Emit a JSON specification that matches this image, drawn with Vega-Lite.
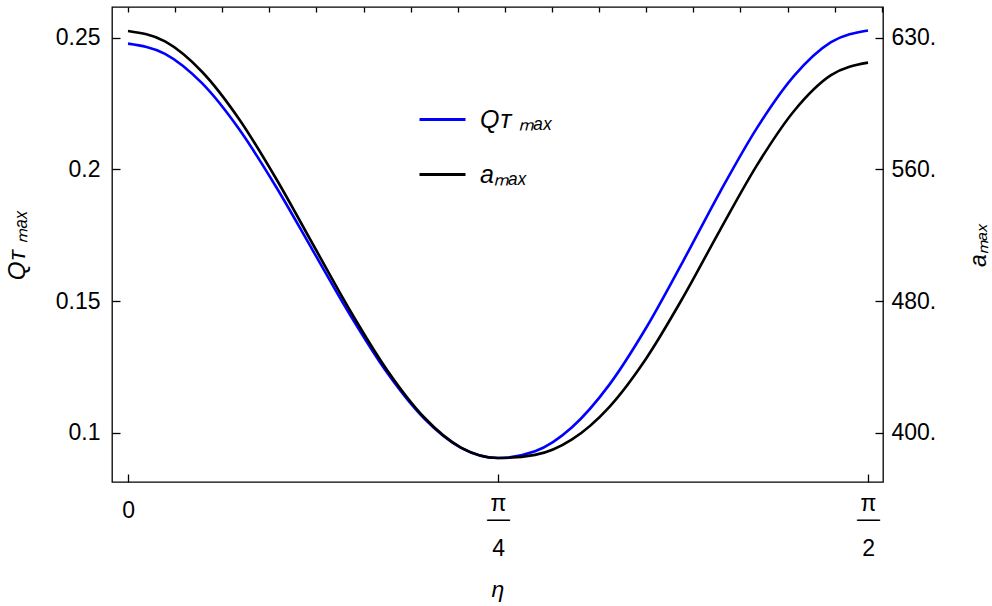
{
  "$schema": "https://vega.github.io/schema/vega-lite/v6.json",
  "width": 771,
  "height": 475,
  "autosize": {"type": "none"},
  "padding": {"left": 112, "top": 7, "right": 109, "bottom": 124},
  "background": "white",
  "config": {
    "font": "Liberation Sans",
    "view": {"stroke": "black", "strokeWidth": 1.3},
    "axis": {
      "domain": false,
      "grid": false,
      "ticks": true,
      "tickColor": "black",
      "tickWidth": 1.3,
      "labelColor": "black",
      "titleColor": "black",
      "labelFont": "Liberation Sans",
      "titleFont": "Liberation Sans",
      "labelFontSize": 23,
      "titleFontSize": 23,
      "titleFontWeight": "normal",
      "titleFontStyle": "italic"
    }
  },
  "data": {
    "values": [
      {"eta": 0.0, "series": "Q", "value": 0.2477},
      {"eta": 0.07854, "series": "Q", "value": 0.24385},
      {"eta": 0.15708, "series": "Q", "value": 0.23269},
      {"eta": 0.23562, "series": "Q", "value": 0.2153},
      {"eta": 0.31416, "series": "Q", "value": 0.19339},
      {"eta": 0.3927, "series": "Q", "value": 0.1691},
      {"eta": 0.47124, "series": "Q", "value": 0.14481},
      {"eta": 0.54978, "series": "Q", "value": 0.1229},
      {"eta": 0.62832, "series": "Q", "value": 0.10551},
      {"eta": 0.70686, "series": "Q", "value": 0.09435},
      {"eta": 0.7854, "series": "Q", "value": 0.0905},
      {"eta": 0.86394, "series": "Q", "value": 0.09304},
      {"eta": 0.94248, "series": "Q", "value": 0.10218},
      {"eta": 1.02102, "series": "Q", "value": 0.11816},
      {"eta": 1.09956, "series": "Q", "value": 0.13983},
      {"eta": 1.1781, "series": "Q", "value": 0.16513},
      {"eta": 1.25664, "series": "Q", "value": 0.1914},
      {"eta": 1.33518, "series": "Q", "value": 0.21575},
      {"eta": 1.41372, "series": "Q", "value": 0.23546},
      {"eta": 1.49226, "series": "Q", "value": 0.24826},
      {"eta": 1.5708, "series": "Q", "value": 0.2527},
      {"eta": 0.0, "series": "a", "value": 0.2525},
      {"eta": 0.07854, "series": "a", "value": 0.24854},
      {"eta": 0.15708, "series": "a", "value": 0.23703},
      {"eta": 0.23562, "series": "a", "value": 0.21911},
      {"eta": 0.31416, "series": "a", "value": 0.19653},
      {"eta": 0.3927, "series": "a", "value": 0.1715},
      {"eta": 0.47124, "series": "a", "value": 0.14647},
      {"eta": 0.54978, "series": "a", "value": 0.12389},
      {"eta": 0.62832, "series": "a", "value": 0.10597},
      {"eta": 0.70686, "series": "a", "value": 0.09446},
      {"eta": 0.7854, "series": "a", "value": 0.0905},
      {"eta": 0.86394, "series": "a", "value": 0.0917},
      {"eta": 0.94248, "series": "a", "value": 0.09758},
      {"eta": 1.02102, "series": "a", "value": 0.10975},
      {"eta": 1.09956, "series": "a", "value": 0.12818},
      {"eta": 1.1781, "series": "a", "value": 0.15142},
      {"eta": 1.25664, "series": "a", "value": 0.17696},
      {"eta": 1.33518, "series": "a", "value": 0.20162},
      {"eta": 1.41372, "series": "a", "value": 0.22216},
      {"eta": 1.49226, "series": "a", "value": 0.23575},
      {"eta": 1.5708, "series": "a", "value": 0.2405}
    ]
  },
  "layer": [
    {
      "transform": [{"filter": "datum.series === 'Q'"}],
      "mark": {"type": "line", "strokeWidth": 2.6, "interpolate": "monotone"},
      "encoding": {
        "x": {
          "field": "eta",
          "type": "quantitative",
          "scale": {"domain": [-0.034, 1.6026], "nice": false, "zero": false},
          "axis": {
            "orient": "bottom",
            "values": [0, 0.785398, 1.570796],
            "offset": -8,
            "tickSize": 8,
            "labelPadding": {"condition": {"test": "datum.value < 0.1", "value": 17.5}, "value": 10.5},
            "labelExpr": "datum.value < 0.1 ? '0' : datum.value < 1 ? ['π', '—', '\u200b', '4'] : ['π', '—', '\u200b', '2']",
            "labelLineHeight": 15,
            "labelFlush": false,
            "labelOverlap": false,
            "title": "η",
            "titlePadding": 18
          }
        },
        "y": {
          "field": "value",
          "type": "quantitative",
          "scale": {"domain": [0.0814, 0.2616], "nice": false, "zero": false},
          "axis": {
            "orient": "left",
            "values": [0.1, 0.15, 0.2, 0.25],
            "offset": -8,
            "tickSize": 8,
            "labelPadding": 12,
            "labelExpr": "datum.value < 0.11 ? '0.1' : datum.value < 0.16 ? '0.15' : datum.value < 0.21 ? '0.2' : '0.25'",
            "title": "Qᴛ ₘₐₓ",
            "titleFontSize": 24,
            "titlePadding": 26
          }
        },
        "color": {
          "field": "series",
          "type": "nominal",
          "scale": {"domain": ["Q", "a"], "range": ["#0000ff", "#000000"]},
          "legend": {
            "orient": "none",
            "legendX": 306,
            "legendY": 88,
            "title": null,
            "symbolType": "stroke",
            "symbolSize": 2116,
            "symbolStrokeWidth": 3,
            "labelFontSize": 25,
            "labelFontStyle": "italic",
            "labelColor": "black",
            "labelFont": "Liberation Sans",
            "labelOffset": 13,
            "rowPadding": 17,
            "labelExpr": "datum.value === 'Q' ? 'Qᴛ ₘₐₓ' : 'aₘₐₓ'"
          }
        }
      }
    },
    {
      "transform": [{"filter": "datum.series === 'a'"}],
      "mark": {"type": "line", "strokeWidth": 2.6, "interpolate": "monotone"},
      "encoding": {
        "x": {
          "field": "eta",
          "type": "quantitative",
          "axis": {
            "orient": "top",
            "values": [0, 0.1, 0.2, 0.3, 0.4, 0.5, 0.6, 0.7, 0.8, 0.9, 1.0, 1.1, 1.2, 1.3, 1.4, 1.5, 1.6],
            "offset": -5,
            "tickSize": 5,
            "labels": false,
            "title": null
          }
        },
        "y": {
          "field": "value",
          "type": "quantitative",
          "scale": {"domain": [0.0814, 0.2616], "nice": false, "zero": false},
          "axis": {
            "orient": "right",
            "values": [0.1, 0.15, 0.2, 0.25],
            "offset": -8,
            "tickSize": 8,
            "labelPadding": 8,
            "labelExpr": "datum.value < 0.11 ? '400.' : datum.value < 0.16 ? '480.' : datum.value < 0.21 ? '560.' : '630.'",
            "title": "aₘₐₓ",
            "titleAngle": 270,
            "titleBaseline": "top",
            "titlePadding": 32
          }
        },
        "color": {"field": "series", "type": "nominal"}
      }
    }
  ],
  "resolve": {"scale": {"y": "independent"}, "axis": {"x": "independent"}}
}
